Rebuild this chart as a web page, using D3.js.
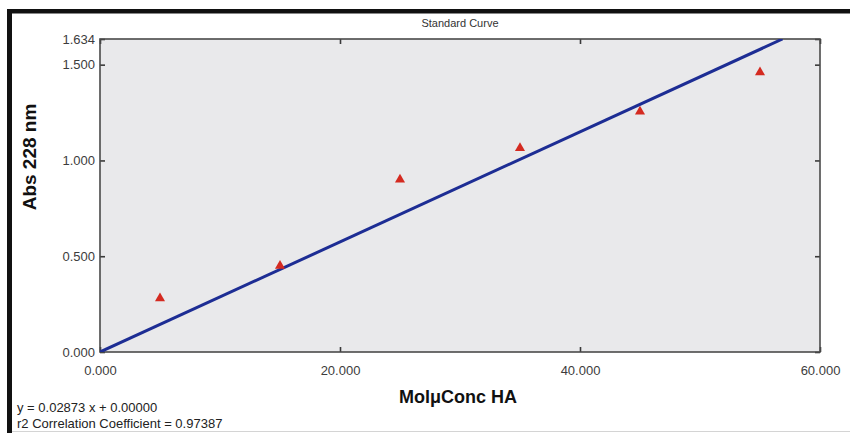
<!DOCTYPE html>
<html>
<head>
<meta charset="utf-8">
<script src="https://cdn.jsdelivr.net/npm/d3@7"></script>
<style>
  html, body { margin: 0; padding: 0; background: #fff; }
  svg { display: block; }
  text { font-family: "Liberation Sans", Arial, sans-serif; }
</style>
</head>
<body>
<svg id="chart" width="850" height="433"></svg>
<script>
// Standard curve measurements: absorbance at 228 nm vs. concentration
const concentrations = [5, 15, 25, 35, 45, 55];
const absorbances = [0.28, 0.45, 0.90, 1.065, 1.255, 1.46];

// Linear fit through the origin
const slope = 0.02873;
const intercept = 0.0;
const r2 = 0.97387;

const xTicks = [0, 20, 40, 60];
const yTicks = [0, 0.5, 1.0, 1.5, 1.634];
const xMax = 60;
const yMax = 1.634;

const svg = d3.select("#chart");
const W = 850, H = 433;
const m = { left: 100, top: 39, right: 30, bottom: 81 };
const pw = W - m.left - m.right;   // 720
const ph = H - m.top - m.bottom;   // 313

// window frame
svg.append("rect").attr("x", 0).attr("y", 0).attr("width", W).attr("height", H).attr("fill", "#fff");
svg.append("rect").attr("x", 7).attr("y", 9).attr("width", W - 7).attr("height", 4.5).attr("fill", "#111");
svg.append("rect").attr("x", 7).attr("y", 9).attr("width", 5).attr("height", H - 9).attr("fill", "#111");
svg.append("line").attr("x1", 12).attr("x2", W).attr("y1", 431.5).attr("y2", 431.5)
  .attr("stroke", "#d4d4d4").attr("stroke-width", 1);

const x = d3.scaleLinear().domain([0, xMax]).range([0, pw]);
const y = d3.scaleLinear().domain([0, yMax]).range([ph, 0]);

const g = svg.append("g").attr("transform", `translate(${m.left},${m.top})`);

// plot background
g.append("rect").attr("width", pw).attr("height", ph).attr("fill", "#e9e9eb");

const fmt = d3.format(".3f");

// axes with inward ticks
const axLeft = g.append("g")
  .call(d3.axisLeft(y).tickValues(yTicks).tickFormat(fmt).tickSize(-5).tickPadding(5));
const axBottom = g.append("g").attr("transform", `translate(0,${ph})`)
  .call(d3.axisBottom(x).tickValues(xTicks).tickFormat(fmt).tickSize(-5).tickPadding(14));
const axTop = g.append("g")
  .call(d3.axisTop(x).tickValues(xTicks).tickFormat("").tickSize(-5));
const axRight = g.append("g").attr("transform", `translate(${pw},0)`)
  .call(d3.axisRight(y).tickValues(yTicks).tickFormat("").tickSize(-5));

[axLeft, axBottom, axTop, axRight].forEach(a => {
  a.select(".domain").remove();
  a.selectAll(".tick line").attr("stroke", "#3a3a3a").attr("stroke-width", 1.6);
  a.selectAll(".tick text").attr("fill", "#3c3c3c").style("font-size", "13px")
    .style("font-family", "'Liberation Sans', Arial, sans-serif");
});

// plot border
g.append("rect").attr("width", pw).attr("height", ph)
  .attr("fill", "none").attr("stroke", "#4a4a4a").attr("stroke-width", 1.6);

// fit line, clipped at the plot top
g.append("clipPath").attr("id", "plotclip")
  .append("rect").attr("width", pw).attr("height", ph);
const xEnd = (yMax - intercept) / slope;
g.append("line")
  .attr("clip-path", "url(#plotclip)")
  .attr("x1", x(0)).attr("y1", y(intercept))
  .attr("x2", x(xEnd)).attr("y2", y(intercept + slope * xEnd))
  .attr("stroke", "#1d2d94").attr("stroke-width", 3);

// data markers
const tri = d3.symbol().type(d3.symbolTriangle).size(44);
g.selectAll(".pt").data(concentrations.map((c, i) => [c, absorbances[i]]))
  .join("path").attr("class", "pt")
  .attr("d", tri)
  .attr("transform", d => `translate(${x(d[0])},${y(d[1])})`)
  .attr("fill", "#d42a20");

// title
svg.append("text").attr("x", 460).attr("y", 27).attr("text-anchor", "middle")
  .attr("fill", "#333").style("font-size", "11px").text("Standard Curve");

// axis titles
svg.append("text").attr("transform", "translate(36,157) rotate(-90)")
  .attr("text-anchor", "middle").attr("fill", "#111")
  .style("font-size", "19px").style("font-weight", "bold").text("Abs 228 nm");
svg.append("text").attr("x", 458).attr("y", 403).attr("text-anchor", "middle")
  .attr("fill", "#111").style("font-size", "18px").style("font-weight", "bold")
  .text("MolμConc HA");

// fit equation
svg.append("text").attr("x", 17).attr("y", 412).attr("fill", "#222").style("font-size", "13px")
  .text(`y = ${d3.format(".5f")(slope)} x + ${d3.format(".5f")(intercept)}`);
svg.append("text").attr("x", 17).attr("y", 428).attr("fill", "#222").style("font-size", "13px")
  .text(`r2 Correlation Coefficient = ${d3.format(".5f")(r2)}`);
</script>
</body>
</html>
